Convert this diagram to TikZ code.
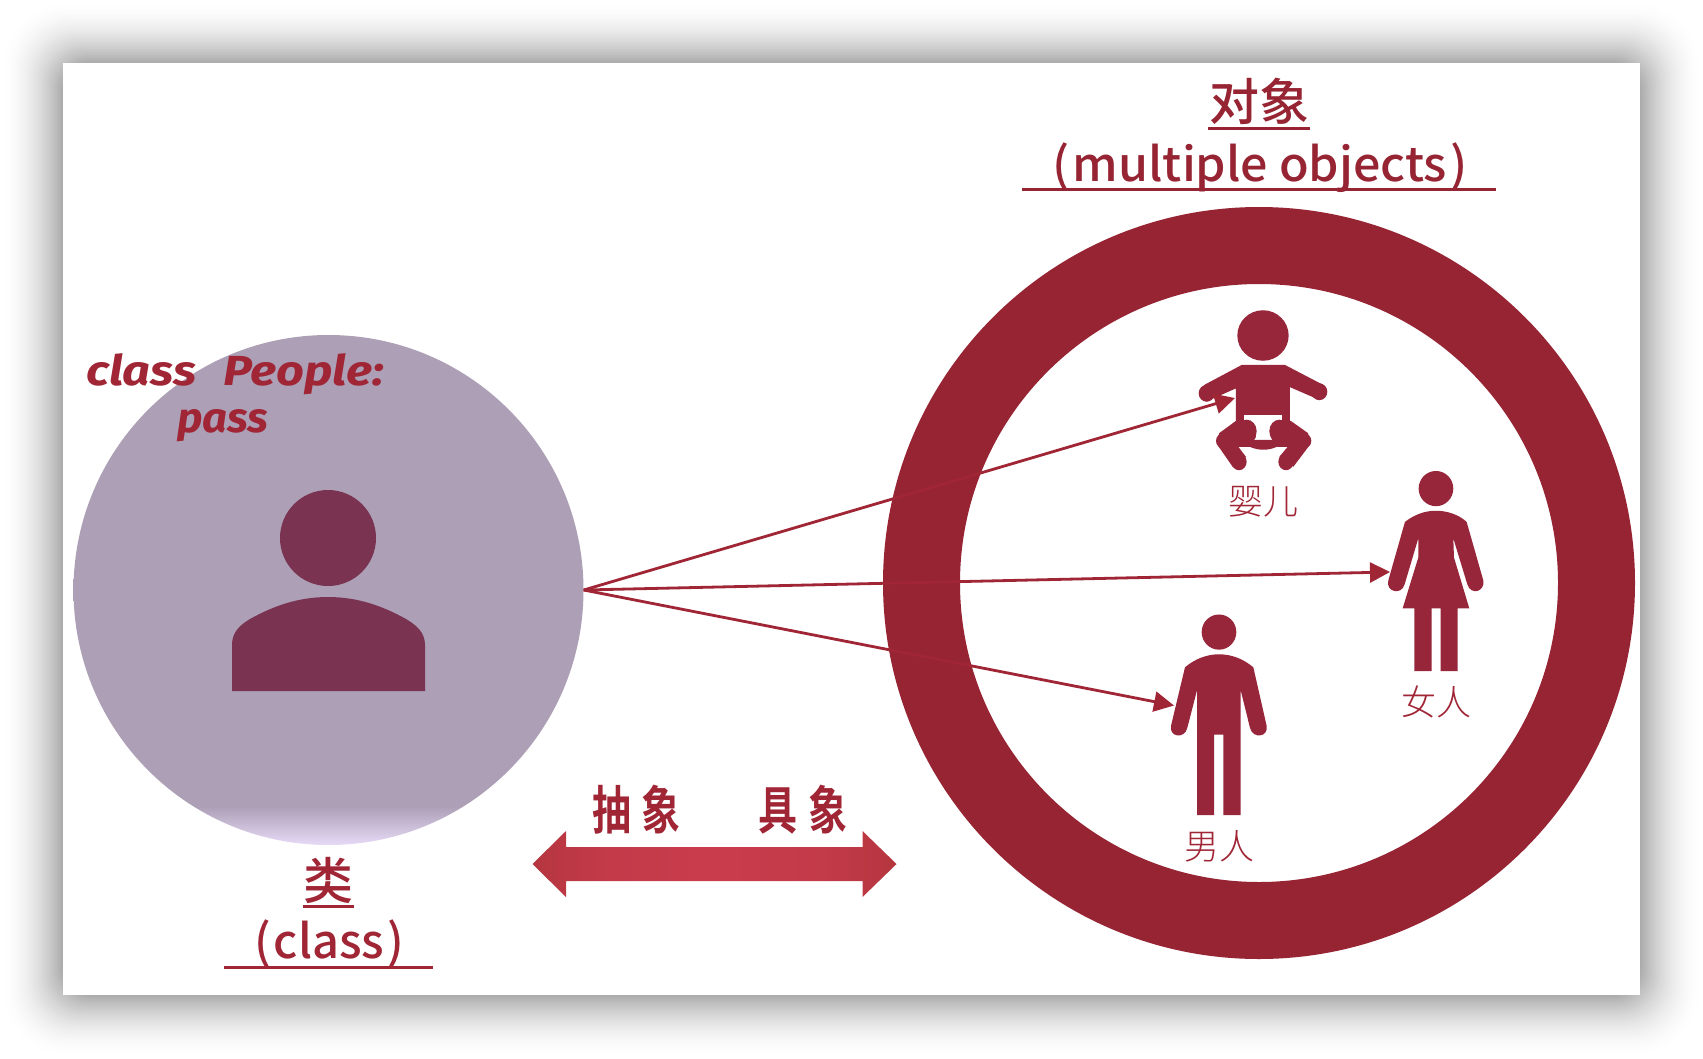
\documentclass[tikz,border=0pt]{standalone}
\usepackage{fontspec}
\usetikzlibrary{arrows.meta,shapes.geometric}
\newfontfamily\cjk{Noto Sans CJK SC Medium}
\newfontfamily\cjklight{Noto Sans CJK SC Light}
\newfontfamily\cjkbold{Noto Sans CJK SC Bold}
\newfontfamily\codefont{Fira Sans}
\definecolor{ringc}{HTML}{962433}
\definecolor{txtc}{HTML}{A02535}
\definecolor{figc}{HTML}{98263A}
\definecolor{clsc}{HTML}{AC9FB6}
\definecolor{clsl}{HTML}{E6DAF7}
\definecolor{persc}{HTML}{7A3350}
\definecolor{arredge}{HTML}{B5363F}
\definecolor{arrnear}{HTML}{C33A49}
\definecolor{arrmid}{HTML}{C93C4C}
\pgfdeclareverticalshading{clsshade}{100bp}{color(0bp)=(clsl); color(25bp)=(clsl); color(28.8bp)=(clsc); color(100bp)=(clsc)}
\pgfdeclarehorizontalshading{arrshade}{100bp}{color(0bp)=(arredge); color(25bp)=(arredge); color(35bp)=(arrnear); color(50bp)=(arrmid); color(65bp)=(arrnear); color(75bp)=(arredge); color(100bp)=(arredge)}
\tikzset{
  zoomfig/.style={shift={(1100,280)},x=0.3333pt,y=-0.3827pt},
  headline/.style={text=ringc,inner sep=0pt,font=\cjk},
  uline/.style={draw=#1,line width=3pt},
  smalllabel/.style={text=txtc,inner sep=0pt,font=\cjklight\fontsize{35}{38}\selectfont},
  link/.style={draw=txtc,line width=2.8pt,-{Triangle[length=20pt,width=20pt]}},
  codetext/.style={text=txtc,inner sep=0pt,anchor=base west,font=\codefont\fontsize{42}{46}\selectfont\bfseries\itshape},
  boldhead/.style={text=txtc,inner sep=0pt,font=\cjkbold\fontsize{52}{56}\selectfont}
}
\begin{document}
\begin{tikzpicture}[x=1pt,y=-1pt]
\useasboundingbox (0,0) rectangle (1703,1058);
\fill[white] (0,0) rectangle (1703,1058);
% soft shadow
\foreach \d in {62,60,...,0}{
  \pgfmathsetmacro{\p}{34*pow(1-\d/63,1.9)}
  \pgfmathsetmacro{\r}{30+0.5*\d}
  \fill[black!\p!white,rounded corners=\r pt] (63-\d,63-\d) rectangle (1640+\d,995+\d);
}
\fill[white] (63,63) rectangle (1640,995);
% class circle
\node[circle,minimum size=510pt,inner sep=0pt,shading=clsshade] (cls) at (328.5,590) {};
\fill[persc] (328,538) circle (48);
\fill[persc] (232,691) -- (232,645) .. controls (232,632) and (240,625) .. (250,619)
  .. controls (275,605) and (300,597) .. (328,597)
  .. controls (356,597) and (381,605) .. (406,619)
  .. controls (416,625) and (425,632) .. (425,645) -- (425,691) -- cycle;
% ring
\fill[ringc,even odd rule] (1259,583) circle (376) (1259,583) circle (299);
% figures
\begin{scope}[zoomfig]
  % baby
  \fill[figc] (489,145) ellipse [x radius=77,y radius=66];
  \fill[figc] (425,222) -- (555,222) -- (665,272) -- (660,314) -- (570,280) -- (570,380)
    -- (408,380) -- (408,283) -- (318,318) -- (313,274) -- cycle;
  \fill[figc] (320,296) ellipse [x radius=24,y radius=22];
  \fill[figc] (658,292) ellipse [x radius=24,y radius=22];
  \fill[white] (432,353) -- (546,353) -- (546,425) -- (432,425) -- cycle;
  \fill[figc] (440,418) -- (540,418) -- (530,436) .. controls (505,446) and (475,446) .. (450,436) -- cycle;
  \fill[figc] (408,368) -- (440,366) -- (468,410) -- (450,436) -- (415,436) -- (438,462)
    -- (398,488) -- (350,428) -- (358,400) -- cycle;
  \fill[figc] (440,395) ellipse [x radius=30,y radius=30];
  \fill[figc] (372,420) ellipse [x radius=24,y radius=20];
  \fill[figc] (417,475) ellipse [x radius=23,y radius=22];
  \fill[figc] (572,368) -- (540,366) -- (512,410) -- (530,436) -- (563,436) -- (538,462)
    -- (580,488) -- (632,428) -- (624,400) -- cycle;
  \fill[figc] (538,395) ellipse [x radius=30,y radius=30];
  \fill[figc] (610,420) ellipse [x radius=24,y radius=20];
  \fill[figc] (558,475) ellipse [x radius=23,y radius=22];
  % woman
  \fill[figc] (1008,545) ellipse [x radius=52,y radius=46];
  \fill[figc] (915,632) .. controls (945,612) and (975,603) .. (1008,603)
    .. controls (1040,603) and (1075,612) .. (1100,632)
    -- (1150,785) .. controls (1156,815) and (1112,825) .. (1102,795)
    -- (1060,675) -- (1062,725) -- (1108,858) -- (1073,858) -- (1073,1022) -- (1022,1022)
    -- (1022,858) -- (995,858) -- (995,1022) -- (943,1022) -- (943,858) -- (908,858)
    -- (955,725) -- (955,675) -- (914,795)
    .. controls (905,825) and (856,815) .. (865,785) -- cycle;
  % man
  \fill[figc] (357,920) ellipse [x radius=52,y radius=46];
  \fill[figc] (255,1012) .. controls (285,990) and (320,978) .. (357,978)
    .. controls (395,978) and (430,990) .. (460,1012)
    -- (500,1165) .. controls (506,1195) and (458,1200) .. (450,1170)
    -- (422,1072) -- (422,1398) -- (370,1398) -- (370,1188) -- (342,1188) -- (342,1398)
    -- (291,1398) -- (291,1072) -- (262,1170)
    .. controls (254,1200) and (207,1195) .. (213,1165) -- cycle;
\end{scope}
% targets
\coordinate (babytip) at (1235,398);
\coordinate (womantip) at (1390,572);
\coordinate (mantip) at (1174,705.5);
\draw[link] (cls.east) -- (babytip);
\draw[link] (cls.east) -- (womantip);
\draw[link] (cls.east) -- (mantip);
% small labels
\node[smalllabel] (lbaby) at (1263,502) {婴儿};
\node[smalllabel] (lwoman) at (1436,702) {女人};
\node[smalllabel] (lman) at (1219,846) {男人};
% code
\node[codetext,xscale=1.16] (code1) at (86,385) {class\hspace{23pt}People:};
\node[codetext,xscale=1.04] (code2) at (177,432) {pass};
% right title
\node[headline,font=\cjk\fontsize{50}{54}\selectfont] (objzh) at (1259,101) {对象};
\draw[uline=ringc] (1208,128) -- (1310,128);
\node[headline,anchor=base,xscale=1.03,font=\cjk\fontsize{47}{50}\selectfont] (objen) at (1260,181) {(\hspace{3pt}multiple objects\hspace{3pt})};
\draw[uline=ringc] (1022,189) -- (1496,189);
% left title
\node[text=txtc,inner sep=0pt,font=\cjk\fontsize{50}{54}\selectfont] (clszh) at (328.5,880) {类};
\draw[uline=txtc] (303,906) -- (354,906);
\node[text=txtc,inner sep=0pt,anchor=base,font=\cjk\fontsize{47}{50}\selectfont] (clsen) at (329,958) {(\hspace{3pt}class\hspace{3pt})};
\draw[uline=txtc] (224,967) -- (433,967);
% abstract / concrete
\node[boldhead,xscale=.75] (abs) at (636.5,810) {抽\hspace{14pt}象};
\node[boldhead,xscale=.75] (con) at (803,810) {具\hspace{14pt}象};
\path[shading=arrshade] (532.5,864) -- (566,831) -- (566,847) -- (862.5,847)
  -- (862.5,831) -- (896.5,864) -- (862.5,897) -- (862.5,881) -- (566,881) -- (566,897) -- cycle;
\end{tikzpicture}
\end{document}
